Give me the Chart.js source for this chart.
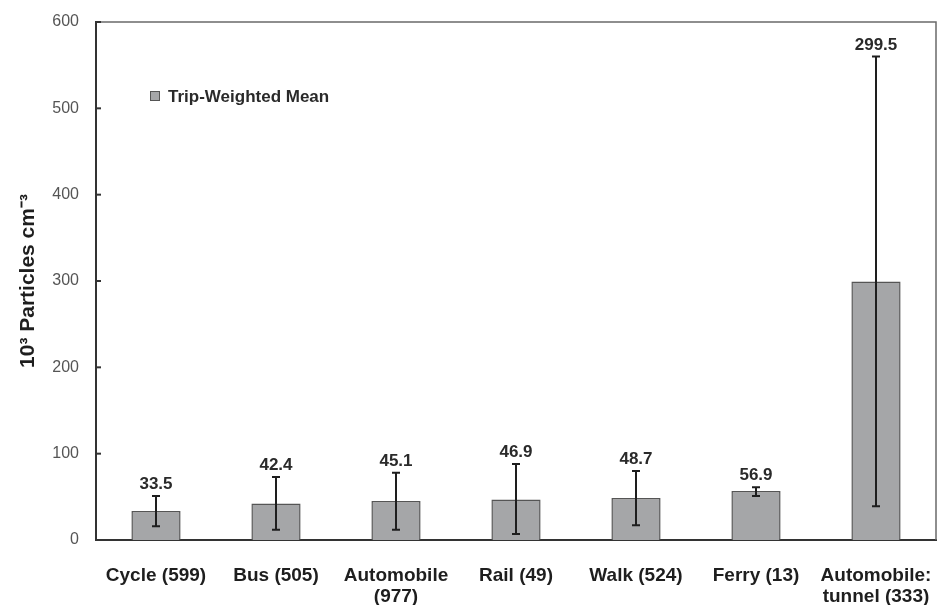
<!DOCTYPE html>
<html>
<head>
<meta charset="utf-8">
<script src="https://cdn.jsdelivr.net/npm/chart.js@4/dist/chart.umd.min.js"></script>
<style>
  html, body { margin: 0; padding: 0; background: #fff; }
  #wrap { width: 942px; height: 605px; }
</style>
</head>
<body>
<div id="wrap"><canvas id="chart" width="942" height="605"></canvas></div>
<script>
// data
const categories = [
  "Cycle (599)", "Bus (505)", ["Automobile", "(977)"], "Rail (49)",
  "Walk (524)", "Ferry (13)", ["Automobile:", "tunnel (333)"]
];
const means = [33.5, 42.4, 45.1, 46.9, 48.7, 56.9, 299.5];
const errHigh = [51, 73, 78, 88, 80, 61, 560];
const errLow = [16, 12, 12, 7, 17, 51, 39];
const yTicks = [0, 100, 200, 300, 400, 500, 600];

const FONT = "'Liberation Sans', Arial, sans-serif";

// error bars, value labels, inner tick marks, frame and legend
const extras = {
  id: "extras",
  afterDatasetsDraw(chart) {
    const ctx = chart.ctx;
    const x = chart.scales.x, y = chart.scales.y;
    const area = chart.chartArea;
    ctx.save();
    ctx.strokeStyle = "#1e1e1e";
    ctx.lineWidth = 2;
    means.forEach((m, i) => {
      const cx = x.getPixelForValue(i);
      const top = y.getPixelForValue(errHigh[i]);
      const bot = y.getPixelForValue(errLow[i]);
      ctx.beginPath();
      ctx.moveTo(cx, top); ctx.lineTo(cx, bot);
      ctx.moveTo(cx - 4, top); ctx.lineTo(cx + 4, top);
      ctx.moveTo(cx - 4, bot); ctx.lineTo(cx + 4, bot);
      ctx.stroke();
      ctx.fillStyle = "#2a2a2a";
      ctx.font = "bold 17px " + FONT;
      ctx.textAlign = "center";
      ctx.textBaseline = "alphabetic";
      ctx.fillText(m.toFixed(1), cx, Math.max(top - 7, area.top + 21));
    });

    // top and right frame
    ctx.strokeStyle = "#6a6a6a";
    ctx.lineWidth = 1.5;
    ctx.beginPath();
    ctx.moveTo(area.left, area.top); ctx.lineTo(area.right, area.top);
    ctx.lineTo(area.right, area.bottom);
    ctx.stroke();

    // inward tick marks on the y axis
    ctx.strokeStyle = "#333";
    ctx.lineWidth = 2;
    yTicks.forEach(t => {
      const py = y.getPixelForValue(t);
      ctx.beginPath();
      ctx.moveTo(area.left, py); ctx.lineTo(area.left + 5, py);
      ctx.stroke();
    });

    // legend
    const lx = area.left + 54, ly = area.top + 69;
    ctx.fillStyle = "#a5a6a8";
    ctx.fillRect(lx, ly, 10, 10);
    ctx.strokeStyle = "#555";
    ctx.lineWidth = 1;
    ctx.strokeRect(lx + 0.5, ly + 0.5, 9, 9);
    ctx.fillStyle = "#2a2a2a";
    ctx.font = "bold 17px " + FONT;
    ctx.textAlign = "left";
    ctx.textBaseline = "middle";
    ctx.fillText("Trip-Weighted Mean", lx + 18, ly + 6);
    ctx.restore();
  }
};

new Chart(document.getElementById("chart"), {
  type: "bar",
  data: {
    labels: categories,
    datasets: [{
      label: "Trip-Weighted Mean",
      data: means,
      backgroundColor: "#a5a6a8",
      borderColor: "#555",
      borderWidth: 1.5,
      categoryPercentage: 1,
      barPercentage: 0.41
    }]
  },
  options: {
    responsive: false,
    animation: false,
    layout: { padding: { top: 22, right: 6, left: 0, bottom: 0 } },
    plugins: { legend: { display: false }, tooltip: { enabled: false } },
    scales: {
      x: {
        grid: { display: false, drawTicks: false },
        border: { display: true, color: "#333", width: 2 },
        ticks: {
          color: "#1e1e1e",
          font: { family: FONT, size: 19, weight: "bold", lineHeight: 1.1 },
          padding: 25,
          maxRotation: 0,
          autoSkip: false
        },
        afterFit(s) { s.height = 65; s.paddingLeft = 0; s.paddingRight = 0; }
      },
      y: {
        min: 0,
        max: 600,
        grid: { display: false, drawTicks: false },
        border: { display: true, color: "#333", width: 2 },
        ticks: {
          stepSize: 100,
          color: "#555",
          font: { family: FONT, size: 16 },
          padding: 17
        },
        title: {
          display: true,
          text: "10\u00B3 Particles cm\u207B\u00B3",
          color: "#1e1e1e",
          font: { family: FONT, size: 21, weight: "bold" },
          padding: { top: 16, bottom: 0 }
        },
        afterFit(s) { s.width = 96; s.paddingTop = 0; s.paddingBottom = 0; }
      }
    }
  },
  plugins: [extras]
});
</script>
</body>
</html>
